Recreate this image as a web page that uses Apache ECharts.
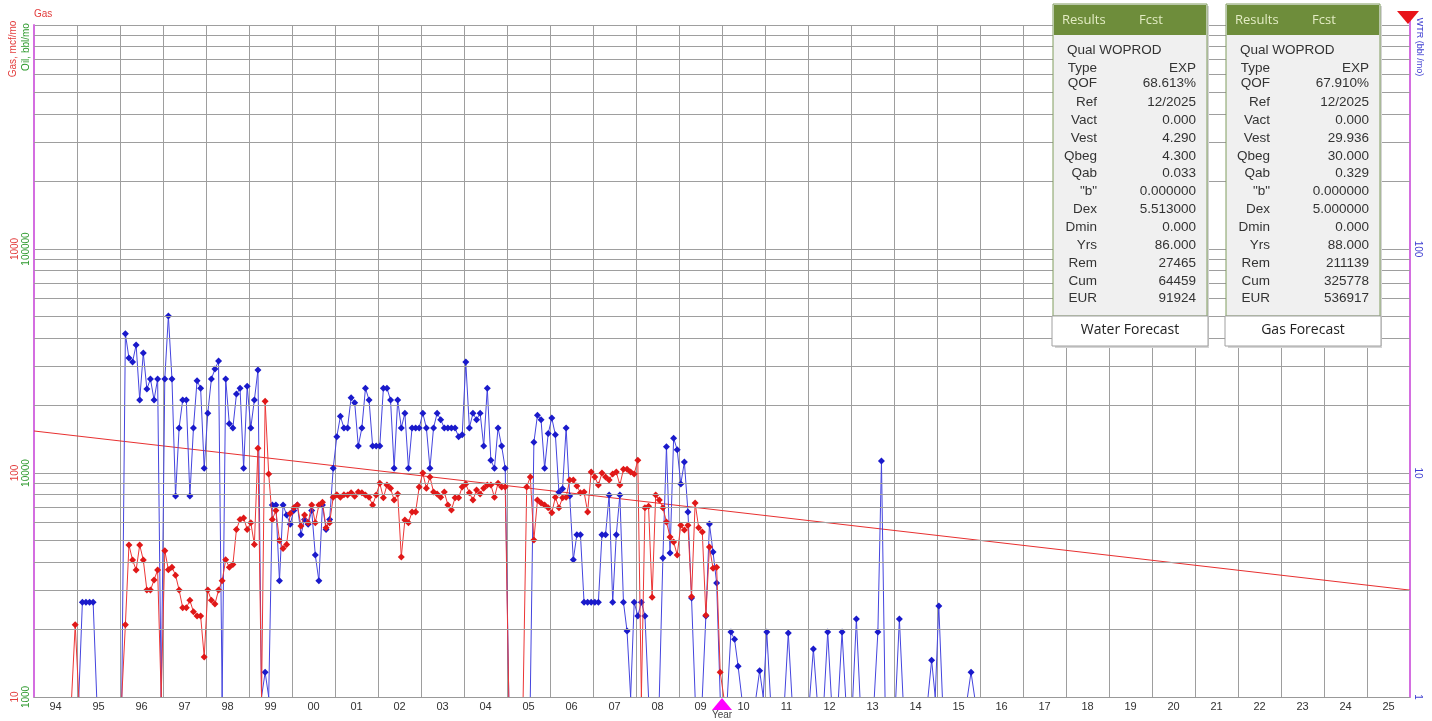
<!DOCTYPE html>
<html>
<head>
<meta charset="utf-8">
<script src="https://cdn.jsdelivr.net/npm/echarts@6/dist/echarts.min.js"></script>
<style>
  html, body { margin: 0; padding: 0; background: #fff; }
  #chart { width: 1432px; height: 721px; }
</style>
</head>
<body>
<div id="chart"></div>
<script>
// year band labels along the bottom (one per calendar year)
const yearLabels = ['94','95','96','97','98','99','00','01','02','03','04','05','06','07','08','09',
  '10','11','12','13','14','15','16','17','18','19','20','21','22','23','24','25']

// monthly water, bbl/mo, first value = Jan 1995 (0 = no production, null = no record)
const waterStart = [1995, 1]
const waterRates = [
  0, 2.65, 2.65, 2.65, 2.65, 0,
  null, null, null, null, null, null,
  0, 41.8, 32.6, 31.3, 37.3, 21.2, 34.3, 23.7, 26.3, 21.2, 26.3, 0,
  26.3, 50.2, 26.3, 7.9, 15.9, 21.2, 21.2, 7.9, 15.9, 25.8, 23.9, 10.5,
  18.5, 26.3, 29.1, 31.6, 0, 26.3, 16.6, 15.9, 22.5, 23.9, 10.5, 24.4,
  15.9, 21.2, 28.8, 0, 1.29, 0, 7.2, 7.2, 3.3, 7.2, 6.5, 5.9,
  6.8, 7.2, 5.3, 6.2, 5.9, 6.8, 4.3, 3.3, 7.2, 5.6, 6.2, 10.5,
  14.5, 17.9, 15.9, 15.9, 21.7, 20.6, 13.2, 15.9, 23.9, 21.2, 13.2, 13.2,
  13.2, 23.9, 23.9, 21.2, 10.5, 21.2, 15.9, 18.5, 10.5, 15.9, 15.9, 15.9,
  18.5, 15.9, 10.5, 15.9, 18.5, 17.3, 15.9, 15.9, 15.9, 15.9, 14.5, 14.8,
  31.3, 15.9, 18.5, 17.3, 18.5, 13.2, 23.9, 11.4, 10.5, 15.9, 13.2, 10.5,
  0, null, null, null, null, null, 0, 13.7, 18.1, 17.3, 10.5, 15.0,
  17.6, 14.8, 8.2, 8.5, 15.9, 7.9, 4.1, 5.3, 5.3, 2.65, 2.65, 2.65,
  2.65, 2.65, 5.3, 5.3, 7.97, 2.65, 5.3, 7.97, 2.65, 1.97, 0, 2.65,
  2.3, 2.65, 2.3, 0, null, null, 0, 4.17, 13.1, 4.39, 14.3, 12.7,
  8.93, 11.2, 6.7, 2.77, 0, null, 0, 2.3, 5.92, 4.44, 3.23, 0,
  null, 0, 1.95, 1.81, 1.37, 0, null, null, null, 0, 1.31, 0,
  1.95, 0, null, null, null, 0, 1.93, 0, null, null, null, null,
  0, 1.64, 0, null, 0, 1.95, 0, null, 0, 1.95, 0, null,
  0, 2.23, 0, null, null, null, 0, 1.95, 11.3, 0, null, null,
  0, 2.23, 0, null, null, null, null, null, null, 0, 1.46, 0,
  2.55, 0, null, null, null, null, null, null, 0, 1.29, 0
]

// monthly gas, mcf/mo, first value = Nov 1994
const gasStart = [1994, 11]
const gasRates = [
  0, 21.0, 0,
  null, null, null, null, null, null, null, null, null, null, null,
  0, 21.0, 47.7, 40.9, 36.9, 47.7, 40.9, 30.0, 30.0, 33.3, 36.9, 0,
  45, 37, 38, 35, 30, 25, 25, 27, 24, 23, 23, 15.1,
  30, 27, 26, 30, 33, 41, 38, 39, 56, 62, 63, 56,
  60, 48, 129, 0, 209, 99, 62, 68, 50, 46, 48, 66,
  70, 72, 58, 65, 60, 72, 60, 72, 74, 57, 60, 78,
  80, 78, 80, 79.8, 81.6, 78.7, 82.3, 81.6, 79.8, 78.0, 72.0, 79.8,
  90.0, 77.5, 88.3, 85.5, 75.7, 80.6, 42.2, 61.7, 59.9, 67.0, 67.0, 86.7,
  100, 85.5, 96, 82.3, 80.6, 78.0, 82.3, 72.0, 68.4, 77.5, 77.5, 86.7,
  89.2, 81.6, 75.7, 84, 80.6, 85.5, 88.3, 88.3, 78, 90, 86.7, 86.7,
  0, null, null, null, 0, 86.7, 96, 50.2, 75.7, 73.5, 72, 69.9,
  66.4, 78, 69.9, 77.5, 78, 93, 93, 87.5, 81.6, 82.3, 67, 101,
  96, 88.3, 100, 96, 93, 99, 101, 88.3, 104, 104, 101, 99,
  114, 0, 69.9, 71.1, 27.9, 79.8, 75.7, 69.9, 60.5, 51.8, 49.2, 43.1,
  58.5, 55.7, 58.5, 28, 73.5, 56.9, 54.5, 23.2, 46.7, 37.6, 38.0, 12.9,
  0
]

// gas forecast (straight exponential decline)
const gasFcstYears = [1994, 2026]
const gasFcstRates = [154, 30]

// log paper minor lines (gas units)
const minorGrid = [20, 30, 40, 50, 60, 70, 80, 90, 200, 300, 400, 500, 600, 700, 800, 900,
  2000, 3000, 4000, 5000, 6000, 7000, 8000, 9000]

const cutoffYear = 2010

// results tables
const tableRows = ['Type', 'QOF', 'Ref', 'Vact', 'Vest', 'Qbeg', 'Qab', '"b"', 'Dex', 'Dmin', 'Yrs', 'Rem', 'Cum', 'EUR']
const waterTable = ['EXP', '68.613%', '12/2025', '0.000', '4.290', '4.300', '0.033', '0.000000', '5.513000', '0.000', '86.000', '27465', '64459', '91924']
const gasTable = ['EXP', '67.910%', '12/2025', '0.000', '29.936', '30.000', '0.329', '0.000000', '5.000000', '0.000', '88.000', '211139', '325778', '536917']

function monthly(start, rates, floor) {
  return rates.map((v, i) => {
    const x = start[0] + (start[1] - 1 + i + 0.5) / 12
    if (v === null) return [x, '-']
    if (v === 0) return { value: [x, floor], symbol: 'none' }
    return [x, v]
  })
}

const rowY = [68, 83, 102, 120, 138, 156, 173, 191, 209, 227, 245, 263, 281, 298]
const sansFont = '"Liberation Sans", Arial, sans-serif'
const uiFont = '"Open Sans", "Noto Sans", sans-serif'

function panel(x0, values, footer) {
  const els = [
    { type: 'rect', shape: { x: x0 + 2, y: 6, width: 154, height: 342 }, style: { fill: '#d4d4d4' } },
    { type: 'rect', shape: { x: x0, y: 4, width: 154, height: 312 }, style: { fill: '#f0f0f0', stroke: '#809d5e', lineWidth: 1 } },
    { type: 'rect', shape: { x: x0 + 1, y: 5, width: 152, height: 30 }, style: { fill: '#6e8d3b' } },
    { type: 'text', style: { text: 'Results', x: x0 + 9, y: 20, fill: '#e3ecc4', font: '13px ' + uiFont, textVerticalAlign: 'middle' } },
    { type: 'text', style: { text: 'Fcst', x: x0 + 86, y: 20, fill: '#e3ecc4', font: '13px ' + uiFont, textVerticalAlign: 'middle' } },
    { type: 'text', style: { text: 'Qual WOPROD', x: x0 + 14, y: 50, fill: '#333', font: '13.5px ' + sansFont, textVerticalAlign: 'middle' } },
    { type: 'rect', shape: { x: x0 - 1, y: 316, width: 156, height: 30 }, style: { fill: '#ffffff', stroke: '#a0a0a0', lineWidth: 1 } },
    { type: 'text', style: { text: footer, x: x0 + 77, y: 330, fill: '#222', font: '14px ' + uiFont, textAlign: 'center', textVerticalAlign: 'middle' } }
  ]
  tableRows.forEach((name, i) => {
    els.push({ type: 'text', style: { text: name, x: x0 + 44, y: rowY[i], fill: '#333', font: '13.5px ' + sansFont, textAlign: 'right', textVerticalAlign: 'middle' } })
    els.push({ type: 'text', style: { text: values[i], x: x0 + 143, y: rowY[i], fill: '#333', font: '13.5px ' + sansFont, textAlign: 'right', textVerticalAlign: 'middle' } })
  })
  return els.map(e => Object.assign(e, { z: 100 }))
}

const plain = v => String(v)
const gridColor = '#9e9e9e'
const chart = echarts.init(document.getElementById('chart'))
chart.setOption({
  animation: false,
  backgroundColor: '#fff',
  grid: { left: 34, right: 22, top: 25, bottom: 24, outerBoundsMode: 'none' },
  xAxis: [
    {
      type: 'value', min: 1994, max: 2026, interval: 1, position: 'bottom',
      axisLine: { show: true, onZero: false, lineStyle: { color: '#999', width: 1 } },
      axisTick: { show: false }, axisLabel: { show: false },
      splitLine: { show: true, lineStyle: { color: gridColor, width: 1 } },
      name: 'Year', nameLocation: 'middle', nameGap: 13,
      nameTextStyle: { color: '#444', fontSize: 10, fontFamily: sansFont }
    },
    {
      type: 'category', data: yearLabels, position: 'bottom', boundaryGap: true,
      axisLine: { show: false }, axisTick: { show: false }, splitLine: { show: false },
      axisLabel: { interval: 0, margin: 4, color: '#333', fontSize: 11, fontFamily: sansFont }
    }
  ],
  yAxis: [
    {
      type: 'log', logBase: 10, min: 10, max: 10000, position: 'left',
      axisLine: { show: true, onZero: false, lineStyle: { color: '#d46ee0', width: 2 } },
      axisTick: { show: false }, splitLine: { show: false },
      axisLabel: { rotate: 90, margin: 14, color: '#e23b3b', fontSize: 10, fontFamily: sansFont, showMaxLabel: false, formatter: plain }
    },
    {
      type: 'log', logBase: 10, min: 1000, max: 1000000, position: 'left',
      axisLine: { show: false }, axisTick: { show: false }, splitLine: { show: false },
      axisLabel: { rotate: 90, margin: 3, color: '#2e9a2e', fontSize: 10, fontFamily: sansFont, showMaxLabel: false, formatter: plain }
    },
    {
      type: 'log', logBase: 10, min: 1, max: 1000, position: 'right',
      axisLine: { show: true, onZero: false, lineStyle: { color: '#d46ee0', width: 2 } },
      axisTick: { show: false },
      splitLine: { show: true, lineStyle: { color: gridColor, width: 1 } },
      axisLabel: { rotate: -90, margin: 3, color: '#3c3cd0', fontSize: 10, fontFamily: sansFont, showMaxLabel: false, formatter: plain }
    }
  ],
  series: [
    {
      name: 'Gas Forecast', type: 'line', xAxisIndex: 0, yAxisIndex: 0,
      data: gasFcstYears.map((y, i) => [y, gasFcstRates[i]]),
      symbol: 'none', lineStyle: { color: '#e83030', width: 1 }, z: 2, silent: true,
      markLine: {
        silent: true, symbol: ['none', 'none'], label: { show: false },
        lineStyle: { color: gridColor, type: 'solid', width: 1 },
        data: minorGrid.map(v => ({ yAxis: v }))
      }
    },
    {
      name: 'Water', type: 'line', xAxisIndex: 0, yAxisIndex: 2,
      data: monthly(waterStart, waterRates, 1),
      symbol: 'diamond', symbolSize: 7, connectNulls: false,
      itemStyle: { color: '#1a1acb' },
      lineStyle: { color: '#4444de', width: 1 }, z: 3,
      markPoint: {
        silent: true,
        data: [{ coord: [cutoffYear, 1], symbol: 'triangle', symbolSize: [20, 12], symbolOffset: [0, 7], itemStyle: { color: '#ff00ff' }, label: { show: false } }]
      }
    },
    {
      name: 'Gas', type: 'line', xAxisIndex: 0, yAxisIndex: 0,
      data: monthly(gasStart, gasRates, 10),
      symbol: 'diamond', symbolSize: 7, connectNulls: false,
      itemStyle: { color: '#e01818' },
      lineStyle: { color: '#ec3636', width: 1 }, z: 4
    }
  ],
  graphic: [
    { type: 'text', style: { text: 'Gas', x: 34, y: 14, fill: '#e23b3b', font: '10px ' + sansFont, textVerticalAlign: 'middle' } },
    { type: 'text', x: 13, y: 49, rotation: Math.PI / 2, style: { text: 'Gas, mcf/mo', fill: '#e23b3b', font: '10px ' + sansFont, textAlign: 'center', textVerticalAlign: 'middle' } },
    { type: 'text', x: 26, y: 47, rotation: Math.PI / 2, style: { text: 'Oil, bbl/mo', fill: '#2e9a2e', font: '10px ' + sansFont, textAlign: 'center', textVerticalAlign: 'middle' } },
    { type: 'text', x: 1419, y: 47, rotation: -Math.PI / 2, style: { text: 'WTR (bbl /mo)', fill: '#3c3cd0', font: '9px ' + sansFont, textAlign: 'center', textVerticalAlign: 'middle' } },
    { type: 'line', shape: { x1: 1410, y1: 12, x2: 1410, y2: 25 }, style: { stroke: '#d46ee0', lineWidth: 2 } },
    { type: 'polygon', z: 100, shape: { points: [[1397, 11], [1419, 11], [1408, 24]] }, style: { fill: '#e8141a' } },
    ...panel(1053, waterTable, 'Water Forecast'),
    ...panel(1226, gasTable, 'Gas Forecast')
  ]
})
</script>
</body>
</html>
